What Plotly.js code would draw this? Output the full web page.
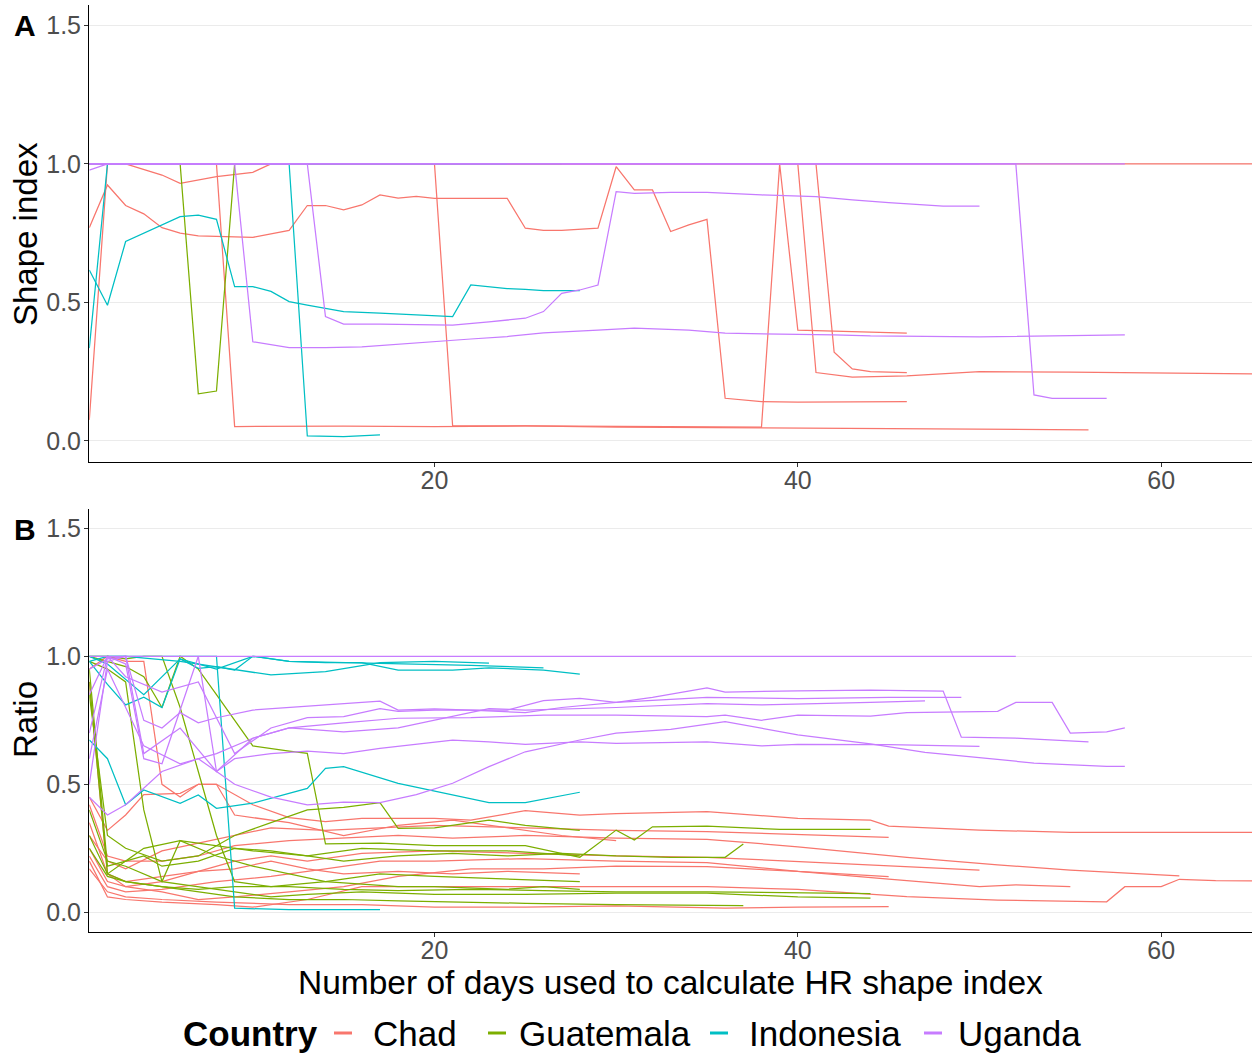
<!DOCTYPE html>
<html><head><meta charset="utf-8">
<script src="https://cdn.plot.ly/plotly-3.0.1.min.js"></script>
<style>html,body{margin:0;padding:0;background:#fff;} #chart{width:1252px;height:1057px;}</style>
</head><body><div id="chart"></div>
<script>
// ---------- DATA ----------
const countries = ["Chad", "Guatemala", "Indonesia", "Uganda"];
const countryColors = ["#F8766D", "#7CAE00", "#00BFC4", "#C77CFF"];
const legendTitle = "Country";
const xTickVals = [20, 40, 60];
const yTickVals = [0, 0.5, 1.0, 1.5];
const yTickText = ["0.0", "0.5", "1.0", "1.5"];

// Panel A: shape index per individual (days, value)
const shapeChadDays = [
  [1, 65],
  [1, 2, 8, 9, 15, 20, 25, 30, 35, 38, 39, 40, 43, 46],
  [1, 20, 21, 25, 30, 35, 40, 45, 50, 56],
  [1, 2, 3, 4, 5, 6, 7, 10, 12, 13, 14, 15, 16, 17, 18, 19, 20, 24, 25, 26, 27, 29, 30, 31, 32, 33, 34, 35, 36, 38, 40, 46],
  [1, 3, 5, 6, 8, 10, 11, 40, 41, 43, 46, 50, 55, 60, 65],
  [1, 41, 42, 43, 44, 46]
];
const shapeChadVals = [
  [1, 1],
  [0.076, 1, 1, 0.052, 0.053, 0.052, 0.054, 0.052, 0.05, 0.05, 1, 0.40, 0.395, 0.389],
  [1, 1, 0.054, 0.054, 0.05, 0.048, 0.045, 0.044, 0.042, 0.04],
  [0.77, 0.924, 0.85, 0.82, 0.77, 0.75, 0.74, 0.735, 0.76, 0.85, 0.85, 0.834, 0.852, 0.888, 0.877, 0.883, 0.876, 0.876, 0.768, 0.76, 0.76, 0.768, 0.99, 0.906, 0.906, 0.756, 0.78, 0.80, 0.154, 0.142, 0.14, 0.142],
  [1, 1, 0.96, 0.93, 0.954, 0.97, 1, 1, 0.247, 0.23, 0.235, 0.25, 0.248, 0.245, 0.242],
  [1, 1, 0.32, 0.26, 0.25, 0.247]
];
const shapeGuatemalaDays = [
  [1, 6, 7, 8, 9, 27],
  [1, 15]
];
const shapeGuatemalaVals = [
  [1, 1, 0.17, 0.18, 1, 1],
  [1, 1]
];
const shapeIndonesiaDays = [
  [1, 2, 3, 4, 5, 6, 7, 8, 9, 10, 11, 12, 13, 15, 17, 19, 21, 22, 24, 25, 26, 28],
  [1, 2, 12, 13, 15, 17],
  [1, 24]
];
const shapeIndonesiaVals = [
  [0.617, 0.49, 0.72, 0.75, 0.78, 0.81, 0.815, 0.80, 0.557, 0.557, 0.54, 0.503, 0.49, 0.467, 0.461, 0.455, 0.449, 0.563, 0.55, 0.547, 0.543, 0.543],
  [0.335, 1, 1, 0.018, 0.016, 0.022],
  [1, 1]
];
const shapeUgandaDays = [
  [1, 2, 9, 10, 12, 14, 16, 18, 20, 22, 24, 26, 29, 31, 34, 36, 42, 44, 50, 58],
  [1, 13, 14, 15, 17, 21, 23, 25, 26, 27, 28, 29, 30, 31, 33, 35, 38, 41, 43, 45, 48, 50],
  [1, 52, 53, 54, 57],
  [1, 58],
  [1, 50]
];
const shapeUgandaVals = [
  [0.978, 1, 1, 0.358, 0.337, 0.337, 0.34, 0.35, 0.36, 0.368, 0.377, 0.39, 0.40, 0.407, 0.40, 0.389, 0.383, 0.379, 0.376, 0.383],
  [1, 1, 0.449, 0.422, 0.422, 0.418, 0.43, 0.443, 0.467, 0.533, 0.545, 0.563, 0.90, 0.894, 0.897, 0.897, 0.888, 0.882, 0.87, 0.86, 0.848, 0.848],
  [1, 1, 0.166, 0.154, 0.154],
  [1, 1],
  [1, 1]
];

// Panel B: ratio per individual (days, value)
const ratioChadDays = [
  [1, 2, 3, 4, 6, 7, 8, 10, 12, 14, 16, 20, 22, 25, 28, 30, 35, 40, 44, 45, 50, 55, 65],
  [1, 2, 3, 5, 7, 9, 11, 14, 17, 20, 25, 30, 35, 40, 45],
  [1, 2, 3, 5, 7, 9, 12, 15, 18, 21, 25, 30, 35, 40, 46, 51, 55, 61],
  [1, 2, 3, 5, 7, 9, 11, 13, 16, 20, 25, 30, 35, 42, 50],
  [1, 2, 3, 5, 8, 11, 14, 17, 20, 25, 30, 35, 40, 45],
  [1, 2, 3, 5, 7, 9, 12, 15, 18, 22, 26, 30, 35, 40, 45, 50, 52, 55],
  [1, 2, 3, 5, 8, 10, 13, 16, 20, 25, 30, 35, 40, 46, 51, 57, 58, 60, 61, 63, 65],
  [1, 2, 3, 5, 8, 12, 16, 20, 25, 30, 36, 40, 45],
  [1, 2, 3, 4, 5, 6, 7, 8, 9, 10, 12, 15, 18, 21, 24, 27, 30],
  [1, 2, 3, 5, 7, 9, 11, 13, 15, 18, 21, 24, 28]
];
const ratioChadVals = [
  [0.45, 0.32, 0.38, 0.46, 0.465, 0.5, 0.5, 0.42, 0.37, 0.354, 0.367, 0.367, 0.36, 0.397, 0.38, 0.385, 0.393, 0.367, 0.36, 0.337, 0.321, 0.3125, 0.3125],
  [0.3, 0.2, 0.17, 0.24, 0.27, 0.3, 0.33, 0.32, 0.33, 0.34, 0.33, 0.32, 0.315, 0.305, 0.293],
  [0.42, 0.22, 0.2, 0.2, 0.22, 0.26, 0.28, 0.29, 0.3, 0.29, 0.3, 0.29, 0.285, 0.256, 0.215, 0.185, 0.165, 0.142],
  [0.25, 0.12, 0.1, 0.12, 0.16, 0.2, 0.22, 0.2, 0.23, 0.24, 0.23, 0.22, 0.215, 0.191, 0.165],
  [0.22, 0.1, 0.08, 0.09, 0.12, 0.14, 0.17, 0.2, 0.2, 0.21, 0.2, 0.194, 0.16, 0.139],
  [0.35, 0.15, 0.1, 0.08, 0.05, 0.06, 0.08, 0.1, 0.14, 0.17, 0.17, 0.18, 0.178, 0.16, 0.13, 0.1, 0.107, 0.1],
  [0.2, 0.06, 0.05, 0.04, 0.03, 0.02, 0.05, 0.1, 0.1, 0.1, 0.1, 0.1, 0.09, 0.061, 0.048, 0.041, 0.1, 0.1, 0.129, 0.124, 0.123],
  [0.17, 0.08, 0.06, 0.05, 0.04, 0.03, 0.03, 0.02, 0.02, 0.025, 0.016, 0.02, 0.022],
  [0.95, 1.0, 0.98, 0.98, 0.5, 0.45, 0.5, 0.5, 0.38, 0.37, 0.35, 0.3, 0.34, 0.36, 0.33, 0.3, 0.28],
  [0.9, 0.15, 0.12, 0.14, 0.16, 0.17, 0.2, 0.17, 0.15, 0.16, 0.15, 0.16, 0.15]
];
const ratioGuatemalaDays = [
  [1, 2, 3, 4, 5, 6, 7, 8, 9, 10, 12, 13, 14, 17, 20, 25, 28, 29, 30, 31, 32, 35, 39, 44],
  [1, 2, 3, 4, 5, 7, 9, 11, 13, 15, 18, 21, 24, 27, 30, 33, 36, 37],
  [1, 2, 3, 5, 7, 9, 12, 15, 18, 22, 26, 30, 35, 40, 44],
  [1, 2, 3, 4, 5, 7, 9, 11, 13, 16, 20, 25, 30, 35, 40, 44],
  [1, 2, 3, 5, 7, 9, 12, 15, 18, 21, 25, 30, 35, 37],
  [1, 2, 3, 5, 7, 9, 11, 13, 15, 17, 18, 20, 23, 25, 28],
  [1, 2, 3, 5, 6, 8, 10, 12, 14, 16, 18, 20, 22, 24, 26, 28],
  [1, 2, 3, 4, 5, 6, 7, 8, 9, 11, 14, 17, 20, 24, 28],
  [1, 2, 3, 4, 6, 8, 10, 13, 16, 20, 24, 28]
];
const ratioGuatemalaVals = [
  [1.0, 0.98, 0.96, 0.92, 0.8, 1.0, 0.95, 0.85, 0.75, 0.65, 0.63, 0.621, 0.267, 0.27, 0.26, 0.26, 0.215, 0.267, 0.321, 0.282, 0.334, 0.337, 0.324, 0.324],
  [0.3, 0.15, 0.2, 0.22, 0.18, 0.2, 0.25, 0.24, 0.22, 0.2, 0.22, 0.23, 0.22, 0.23, 0.22, 0.215, 0.215, 0.267],
  [0.9, 0.15, 0.12, 0.1, 0.09, 0.1, 0.1, 0.09, 0.085, 0.09, 0.085, 0.08, 0.08, 0.076, 0.073],
  [0.98, 0.95, 0.9, 0.4, 0.12, 0.1, 0.08, 0.06, 0.07, 0.08, 0.07, 0.07, 0.075, 0.075, 0.06, 0.055],
  [0.25, 0.14, 0.12, 0.1, 0.08, 0.06, 0.05, 0.05, 0.045, 0.04, 0.035, 0.03, 0.026, 0.026],
  [0.85, 0.3, 0.25, 0.2, 0.22, 0.3, 0.35, 0.4, 0.41, 0.428, 0.328, 0.33, 0.36, 0.34, 0.32],
  [0.4, 0.2, 0.18, 0.12, 0.28, 0.22, 0.18, 0.15, 0.12, 0.11, 0.1, 0.1, 0.095, 0.09, 0.1, 0.09],
  [1.0, 1.0, 0.99, 1.0, 1.0, 0.8, 0.55, 0.3, 0.12, 0.1, 0.12, 0.15, 0.14, 0.13, 0.12],
  [0.95, 0.18, 0.2, 0.25, 0.28, 0.26, 0.24, 0.22, 0.25, 0.24, 0.24, 0.22]
];
const ratioIndonesiaDays = [
  [1, 2, 4, 6, 8, 10, 12, 14, 16, 18, 21, 23, 26, 28],
  [1, 2, 3, 4, 5, 6, 7, 8, 9, 10, 12, 15, 18, 22, 26],
  [1, 3, 6, 11, 14, 17, 20, 23],
  [1, 2, 3, 4, 6, 7, 8, 10, 13, 14, 15, 18, 23, 25, 28],
  [1, 2, 8, 9, 12, 17]
];
const ratioIndonesiaVals = [
  [1.0, 0.97, 0.85, 0.99, 0.95, 1.0, 0.98, 0.975, 0.975, 0.946, 0.946, 0.955, 0.946, 0.93],
  [0.98, 0.89, 0.81, 0.84, 0.80, 0.99, 0.953, 0.96, 0.946, 1.0, 0.98, 0.975, 0.97, 0.965, 0.955],
  [1.0, 1.0, 0.98, 0.927, 0.94, 0.975, 0.98, 0.973],
  [0.673, 0.6, 0.42, 0.478, 0.426, 0.458, 0.406, 0.426, 0.484, 0.5625, 0.569, 0.504, 0.428, 0.428, 0.469],
  [0.98, 1.0, 1.0, 0.016, 0.01, 0.01]
];
const ratioUgandaDays = [
  [1, 52],
  [1, 2, 3, 4, 5, 6, 7, 8, 10, 12, 14, 15, 17, 18, 20, 22, 24, 26, 28, 30, 32, 35, 36, 40, 44, 48, 49, 52, 56],
  [1, 2, 3, 5, 7, 9, 11, 13, 15, 17, 18, 20, 22, 25, 27, 30, 35, 40, 45, 49],
  [1, 2, 4, 6, 8, 10, 12, 15, 18, 20, 23, 25, 30, 35, 38, 44, 47],
  [1, 2, 3, 4, 6, 8, 10, 12, 15, 18, 22, 26, 30, 35, 36, 38, 40, 44, 46, 51, 52, 54, 55, 57, 58],
  [1, 2, 3, 5, 7, 9, 11, 13, 15, 17, 19, 21, 23, 25, 28, 30, 33, 36, 40, 44, 47, 53, 57, 58],
  [1, 2, 3, 4, 5, 7, 8, 9, 11, 13, 15, 17, 21, 23, 25, 28, 30, 35, 38, 40, 45, 50]
];
const ratioUgandaVals = [
  [1, 1],
  [0.95, 0.99, 1.0, 0.75, 0.72, 0.78, 0.74, 0.76, 0.79, 0.80, 0.81, 0.816, 0.825, 0.79, 0.795, 0.79, 0.79, 0.827, 0.836, 0.82, 0.84, 0.877, 0.86, 0.865, 0.868, 0.864, 0.684, 0.68, 0.666],
  [0.7, 1.0, 0.92, 0.86, 0.9, 0.62, 0.72, 0.76, 0.764, 0.796, 0.785, 0.79, 0.79, 0.78, 0.8, 0.82, 0.84, 0.835, 0.84, 0.84],
  [0.6, 0.95, 0.65, 0.58, 0.62, 0.68, 0.72, 0.705, 0.72, 0.751, 0.796, 0.79, 0.8, 0.815, 0.81, 0.82, 0.826],
  [0.5, 0.98, 1.0, 0.62, 0.72, 0.55, 0.68, 0.72, 0.74, 0.758, 0.76, 0.77, 0.77, 0.764, 0.77, 0.75, 0.77, 0.766, 0.78, 0.785, 0.82, 0.82, 0.70, 0.705, 0.72],
  [0.45, 0.38, 0.42, 0.55, 0.6, 0.5, 0.45, 0.42, 0.43, 0.428, 0.46, 0.504, 0.569, 0.627, 0.673, 0.7, 0.715, 0.745, 0.693, 0.658, 0.625, 0.583, 0.57, 0.57],
  [0.85, 1.0, 0.97, 0.6, 0.58, 1.0, 0.55, 0.6, 0.62, 0.63, 0.62, 0.64, 0.673, 0.666, 0.656, 0.666, 0.66, 0.666, 0.65, 0.656, 0.655, 0.648]
];

// ---------- BUILD ----------
const FONT = "Liberation Sans, Arial, sans-serif";
const shapeDays = [shapeChadDays, shapeGuatemalaDays, shapeIndonesiaDays, shapeUgandaDays];
const shapeVals = [shapeChadVals, shapeGuatemalaVals, shapeIndonesiaVals, shapeUgandaVals];
const ratioDays = [ratioChadDays, ratioGuatemalaDays, ratioIndonesiaDays, ratioUgandaDays];
const ratioVals = [ratioChadVals, ratioGuatemalaVals, ratioIndonesiaVals, ratioUgandaVals];

const traces = [];
function addPanel(daysSets, valSets, xa, ya) {
  countries.forEach((c, ci) => {
    daysSets[ci].forEach((d, li) => {
      traces.push({
        type: "scatter", mode: "lines",
        x: d, y: valSets[ci][li],
        xaxis: xa, yaxis: ya,
        name: c, legendgroup: c, showlegend: false,
        line: {color: countryColors[ci], width: 1.25},
        hoverinfo: "skip"
      });
    });
  });
}
addPanel(shapeDays, shapeVals, "x", "y");
addPanel(ratioDays, ratioVals, "x2", "y2");

const W = 1252, H = 1057;
const xDom = [89.3 / W, 1];
const axBase = {
  showline: true, linecolor: "#000", linewidth: 1.3,
  ticks: "outside", ticklen: 4, tickwidth: 1, tickcolor: "#333",
  tickfont: {family: FONT, size: 25, color: "#4D4D4D"},
  zeroline: false
};
const xAx = Object.assign({}, axBase, {
  domain: xDom, range: [1, 65], tickvals: xTickVals, showgrid: false,
  ticklabelstandoff: -8
});
const yAx = Object.assign({}, axBase, {
  range: [-0.075, 1.575], tickvals: yTickVals, ticktext: yTickText,
  showgrid: true, gridcolor: "#EBEBEB", gridwidth: 1,
  ticklabelstandoff: -2
});

// Legend (drawn as text + short key lines, ggplot style)
const legendY = 1 - 1033 / H;
const legendKeyX = [[334, 352], [488, 506], [710, 728], [924, 942]];
const legendLabelX = [371, 517, 747, 956];
const annotations = [
  {text: "<b>A</b>", x: 25 / W, y: 1 - 26 / H, xref: "paper", yref: "paper", showarrow: false,
   font: {family: FONT, size: 30, color: "#000"}, xanchor: "center", yanchor: "middle"},
  {text: "<b>B</b>", x: 25 / W, y: 1 - 529 / H, xref: "paper", yref: "paper", showarrow: false,
   font: {family: FONT, size: 30, color: "#000"}, xanchor: "center", yanchor: "middle"},
  {text: "Shape index", x: 25 / W, y: 1 - 234 / H, xref: "paper", yref: "paper", showarrow: false,
   textangle: -90, font: {family: FONT, size: 33, color: "#000"}, xanchor: "center", yanchor: "middle"},
  {text: "Ratio", x: 25 / W, y: 1 - 720 / H, xref: "paper", yref: "paper", showarrow: false,
   textangle: -90, font: {family: FONT, size: 33, color: "#000"}, xanchor: "center", yanchor: "middle"},
  {text: "Number of days used to calculate HR shape index", x: 670 / W, y: 1 - 982 / H,
   xref: "paper", yref: "paper", showarrow: false,
   font: {family: FONT, size: 33.5, color: "#000"}, xanchor: "center", yanchor: "middle"},
  {text: "<b>" + legendTitle + "</b>", x: 181 / W, y: legendY, xref: "paper", yref: "paper", showarrow: false,
   font: {family: FONT, size: 35, color: "#000"}, xanchor: "left", yanchor: "middle"}
];
const shapes = [];
countries.forEach((c, ci) => {
  annotations.push({text: c, x: legendLabelX[ci] / W, y: legendY, xref: "paper", yref: "paper",
    showarrow: false, font: {family: FONT, size: 35, color: "#000"}, xanchor: "left", yanchor: "middle"});
  shapes.push({type: "line", xref: "paper", yref: "paper",
    x0: legendKeyX[ci][0] / W, x1: legendKeyX[ci][1] / W, y0: legendY, y1: legendY,
    line: {color: countryColors[ci], width: 3}});
});

const layout = {
  width: W, height: H, autosize: false,
  margin: {l: 0, r: 0, t: 0, b: 0},
  paper_bgcolor: "#fff", plot_bgcolor: "#fff",
  font: {family: FONT, color: "#000"},
  showlegend: false,
  xaxis: Object.assign({}, xAx, {anchor: "y"}),
  yaxis: Object.assign({}, yAx, {domain: [1 - 461.7 / H, 1 - 4.7 / H], anchor: "x"}),
  xaxis2: Object.assign({}, xAx, {anchor: "y2"}),
  yaxis2: Object.assign({}, yAx, {domain: [1 - 931.5 / H, 1 - 509.1 / H], anchor: "x2"}),
  annotations: annotations,
  shapes: shapes
};

Plotly.newPlot("chart", traces, layout, {staticPlot: true, displayModeBar: false});
</script>
</body></html>
